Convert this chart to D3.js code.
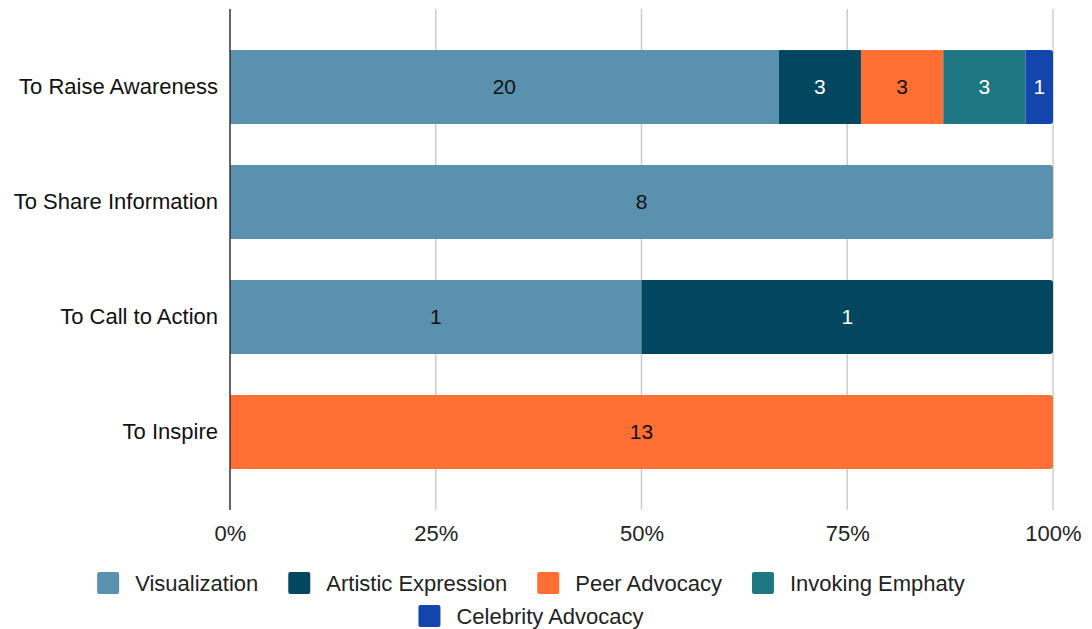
<!DOCTYPE html>
<html>
<head>
<meta charset="utf-8">
<script src="https://cdn.jsdelivr.net/npm/d3@7/dist/d3.min.js"></script>
<style>
  html, body { margin: 0; padding: 0; background: #fff; }
  svg text { font-family: "Liberation Sans", Arial, sans-serif; }
</style>
</head>
<body>
<svg id="chart" width="1092" height="629"></svg>
<script>
// Purposes of each campaign, stacked by communication approach
const categories = ["To Raise Awareness", "To Share Information", "To Call to Action", "To Inspire"];
const seriesNames = ["Visualization", "Artistic Expression", "Peer Advocacy", "Invoking Emphaty", "Celebrity Advocacy"];
const visualization      = [20, 8, 1, 0];
const artisticExpression = [3, 0, 1, 0];
const peerAdvocacy       = [3, 0, 0, 13];
const invokingEmphaty    = [3, 0, 0, 0];
const celebrityAdvocacy  = [1, 0, 0, 0];
const tickValues = [0, 0.25, 0.5, 0.75, 1];

const seriesValues = [visualization, artisticExpression, peerAdvocacy, invokingEmphaty, celebrityAdvocacy];
const colors = ["#5a91ae", "#03465f", "#ff6f33", "#1f7683", "#1445ac"];
const labelColors = ["#111", "#fff", "#111", "#fff", "#fff"];

const rows = categories.map((c, i) => {
  const r = { category: c };
  seriesNames.forEach((s, j) => { r[s] = seriesValues[j][i]; });
  return r;
});

const svg = d3.select("#chart");
const margin = { left: 230, right: 39, top: 9, bottom: 119 };
const W = 1092, H = 629;
const FONT = '"Liberation Sans", Arial, sans-serif';

const x = d3.scaleLinear().domain([0, 1]).range([margin.left, W - margin.right]);
const y = d3.scaleBand().domain(categories).range([margin.top, H - margin.bottom])
  .paddingInner(0.357).paddingOuter(0.357);

// vertical gridlines
svg.append("g").selectAll("line").data(tickValues.slice(1)).join("line")
  .attr("x1", d => x(d)).attr("x2", d => x(d))
  .attr("y1", margin.top).attr("y2", H - margin.bottom)
  .attr("stroke", "#cccccc").attr("stroke-width", 1.5);

// x tick labels
const xAxis = d3.axisBottom(x).tickValues(tickValues).tickFormat(d3.format(".0%")).tickSize(0).tickPadding(15);
const gx = svg.append("g").attr("transform", `translate(0,${H - margin.bottom})`).call(xAxis);
gx.select(".domain").remove();
gx.selectAll("text").attr("font-size", 22).attr("fill", "#222").style("font-family", FONT);

// stacked, normalized to 100%
const stack = d3.stack().keys(seriesNames).offset(d3.stackOffsetExpand);
const layers = stack(rows);

const r = 3;
layers.forEach((layer, j) => {
  const g = svg.append("g");
  layer.forEach((d, i) => {
    const v = seriesValues[j][i];
    if (!v) return;
    const x0 = x(d[0]), x1 = x(d[1]);
    const y0 = y(d.data.category), h = y.bandwidth();
    // last non-empty segment in the row gets rounded right corners
    const isLast = seriesValues.slice(j + 1).every(arr => !arr[i]);
    if (isLast) {
      const p = d3.path();
      p.moveTo(x0, y0);
      p.lineTo(x1 - r, y0);
      p.arcTo(x1, y0, x1, y0 + r, r);
      p.lineTo(x1, y0 + h - r);
      p.arcTo(x1, y0 + h, x1 - r, y0 + h, r);
      p.lineTo(x0, y0 + h);
      p.closePath();
      g.append("path").attr("d", p.toString()).attr("fill", colors[j]);
    } else {
      g.append("rect").attr("x", x0).attr("y", y0)
        .attr("width", x1 - x0).attr("height", h).attr("fill", colors[j]);
    }
    g.append("text")
      .attr("x", (x0 + x1) / 2).attr("y", y0 + h / 2)
      .attr("dy", "0.35em").attr("text-anchor", "middle")
      .attr("font-size", 21).attr("fill", labelColors[j])
      .text(v);
  });
});

// y axis: category labels and baseline
const yAxis = d3.axisLeft(y).tickSize(0).tickPadding(12);
const gy = svg.append("g").attr("transform", `translate(${margin.left},0)`).call(yAxis);
gy.select(".domain").remove();
gy.selectAll("text").attr("font-size", 22).attr("fill", "#111").style("font-family", FONT);
svg.append("line")
  .attr("x1", margin.left).attr("x2", margin.left)
  .attr("y1", margin.top).attr("y2", H - margin.bottom)
  .attr("stroke", "#333").attr("stroke-width", 1.5);

// legend, centered, wrapped into two rows
const legendRows = [seriesNames.slice(0, 4), seriesNames.slice(4)];
const legendCenter = 531;
const sw = 22, textGap = 16, itemGap = 30;
legendRows.forEach((names, ri) => {
  const g = svg.append("g");
  let cx = 0;
  const items = [];
  names.forEach(n => {
    const j = seriesNames.indexOf(n);
    const it = g.append("g");
    it.append("rect").attr("width", sw).attr("height", sw).attr("rx", 2)
      .attr("fill", colors[j]);
    const t = it.append("text").attr("x", sw + textGap).attr("y", sw / 2).attr("dy", "0.35em")
      .attr("font-size", 22).attr("fill", "#222").text(n);
    const w = sw + textGap + t.node().getComputedTextLength();
    items.push({ it, x: cx });
    cx += w + itemGap;
  });
  const total = cx - itemGap;
  const start = legendCenter - total / 2;
  const yTop = 572 + ri * 33;
  items.forEach(o => o.it.attr("transform", `translate(${start + o.x},${yTop})`));
});
</script>
</body>
</html>
